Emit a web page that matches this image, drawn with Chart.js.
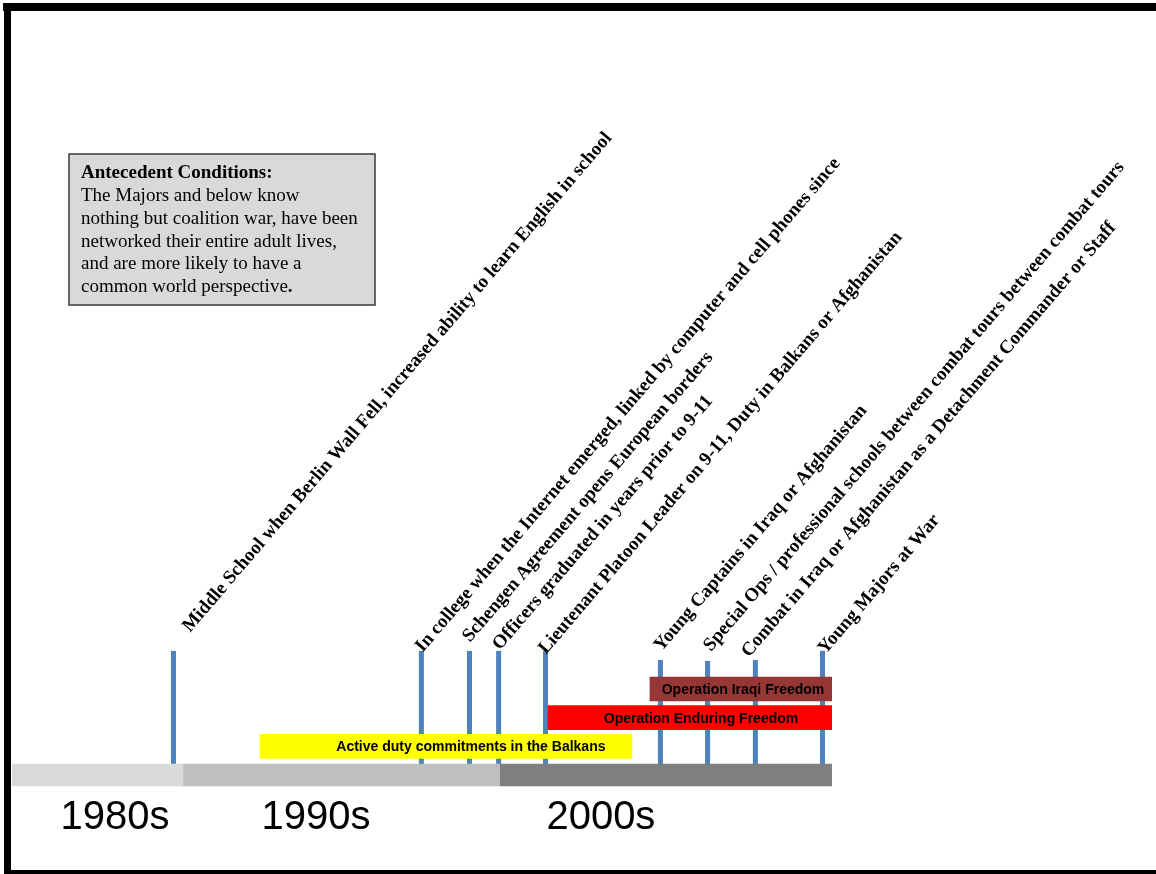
<!DOCTYPE html>
<html>
<head>
<meta charset="utf-8">
<script src="https://cdn.jsdelivr.net/npm/chart.js@4.4.0/dist/chart.umd.min.js"></script>
<style>
html,body{margin:0;padding:0;background:#fff;}
#wrap{position:relative;width:1156px;height:874px;}
</style>
</head>
<body>
<div id="wrap"><canvas id="c"></canvas></div>
<script>
// ---- data ----
const decadeNames = ['1980s', '1990s', '2000s'];
const decadeStart = [1984.6, 1990, 2000];
const decadeEnd = [1990, 2000, 2010.5];
const decadeLabelAt = [1987.85, 1994.2, 2003.2];

const opNames = ['Active duty commitments in the Balkans', 'Operation Enduring Freedom', 'Operation Iraqi Freedom'];
const opStart = [1992.43, 2001.53, 2004.75];
const opEnd = [2004.18, 2010.5, 2010.5];
const opRow = [1, 2, 3];

const eventLabels = [
  'Middle School when Berlin Wall Fell, increased ability to learn English in school',
  'In college when the Internet emerged, linked by computer and cell phones since',
  'Schengen Agreement opens European borders',
  'Officers graduated in years prior to 9-11',
  'Lieutenant Platoon Leader on 9-11, Duty in Balkans or Afghanistan',
  'Young Captains in Iraq or Afghanistan',
  'Special Ops / professional schools between combat tours between combat tours',
  'Combat in Iraq or Afghanistan as a Detachment Commander or Staff',
  'Young Majors at War'
];
const eventYears = [1989.7, 1997.53, 1999.05, 1999.97, 2001.45, 2005.08, 2006.57, 2008.08, 2010.2];
const eventTop = [4.33, 4.33, 4.33, 4.33, 4.33, 4.01, 3.98, 4.01, 4.33];
const eventBase = 0.35;

const boxTitle = 'Antecedent Conditions:';
const boxLines = [
  'The Majors and below know',
  'nothing but coalition war, have been',
  'networked their entire adult lives,',
  'and are more likely to have a',
  'common world perspective'
];

// ---- styles ----
const bandColors = ['#d9d9d9', '#bfbfbf', '#7f7f7f'];
const opColors = ['#ffff00', '#ff0000', '#953735'];
const opTextNudge = [25, 11, 2];
const labelNudge = [[16.5,-18],[1.5,2],[0.5,-8],[1.5,0],[0.5,4],[1,-8],[3.5,-9],[-6.5,-2],[3,4]];
const labelAngle = -49.5 * Math.PI / 180;

const datasets = [];
eventYears.forEach((yr, i) => {
  datasets.push({
    type: 'line',
    data: [{x: yr, y: eventBase}, {x: yr, y: eventTop[i]}],
    borderColor: '#4f81bd',
    borderWidth: 5,
    borderCapStyle: 'butt',
    pointRadius: 0,
    clip: false,
    order: 3
  });
});
decadeNames.forEach((n, i) => {
  datasets.push({
    type: 'bar',
    indexAxis: 'y',
    data: [{x: [decadeStart[i], decadeEnd[i]], y: 0}],
    backgroundColor: bandColors[i],
    barThickness: 22,
    grouped: false,
    borderWidth: 0,
    order: 1
  });
});
opNames.forEach((n, i) => {
  datasets.push({
    type: 'bar',
    indexAxis: 'y',
    data: [{x: [opStart[i], opEnd[i]], y: opRow[i]}],
    backgroundColor: opColors[i],
    barThickness: 24,
    grouped: false,
    borderWidth: 0,
    order: 1
  });
});

const decorPlugin = {
  id: 'decor',
  beforeDraw(chart) {
    const ctx = chart.ctx;
    ctx.save();
    ctx.fillStyle = '#fff';
    ctx.fillRect(0, 0, chart.width, chart.height);
    // frame
    ctx.fillStyle = '#000';
    ctx.fillRect(3, 3, 1153, 8);
    ctx.fillRect(4, 3, 7, 871);
    ctx.fillRect(4, 870, 1152, 4);
    // antecedent box
    ctx.fillStyle = '#d9d9d9';
    ctx.fillRect(69, 154, 306, 151);
    ctx.strokeStyle = '#3a3a3a';
    ctx.lineWidth = 1.5;
    ctx.strokeRect(69, 154, 306, 151);
    ctx.fillStyle = '#000';
    ctx.textBaseline = 'alphabetic';
    ctx.textAlign = 'left';
    ctx.font = 'bold 19px "Liberation Serif"';
    ctx.fillText(boxTitle, 81, 178);
    boxLines.forEach((t, i) => {
      ctx.font = '19px "Liberation Serif"';
      ctx.fillText(t, 81, 201 + i * 22.8);
      if (i === boxLines.length - 1) {
        const w = ctx.measureText(t).width;
        ctx.font = 'bold 19px "Liberation Serif"';
        ctx.fillText('.', 81 + w, 201 + i * 22.8);
      }
    });
    ctx.restore();
  },
  afterDatasetsDraw(chart) {
    const ctx = chart.ctx;
    const xs = chart.scales.x, ys = chart.scales.y;
    ctx.save();
    // bar labels
    ctx.fillStyle = '#000';
    ctx.font = 'bold 14px "Liberation Sans"';
    ctx.textAlign = 'center';
    ctx.textBaseline = 'middle';
    opNames.forEach((t, i) => {
      const cx = (xs.getPixelForValue(opStart[i]) + xs.getPixelForValue(opEnd[i])) / 2 + opTextNudge[i];
      const cy = ys.getPixelForValue(opRow[i]) + 1;
      ctx.fillText(t, cx, cy);
    });
    // event labels
    ctx.font = 'bold 19px "Liberation Serif"';
    ctx.textAlign = 'left';
    ctx.textBaseline = 'alphabetic';
    eventLabels.forEach((t, i) => {
      const px = xs.getPixelForValue(eventYears[i]) + labelNudge[i][0];
      const py = ys.getPixelForValue(eventTop[i]) + labelNudge[i][1];
      ctx.save();
      ctx.translate(px, py);
      ctx.rotate(labelAngle);
      ctx.fillText(t, 0, 0);
      ctx.restore();
    });
    ctx.restore();
  }
};

new Chart(document.getElementById('c'), {
  type: 'bar',
  data: {datasets},
  options: {
    responsive: true,
    maintainAspectRatio: false,
    animation: false,
    indexAxis: 'y',
    layout: {padding: {left: 12, right: 324, top: 646, bottom: 24.67}},
    plugins: {legend: {display: false}, tooltip: {enabled: false}},
    scales: {
      x: {
        type: 'linear',
        min: 1984.6,
        max: 2010.5,
        bounds: 'data',
        grid: {display: false, drawTicks: false},
        border: {display: false},
        afterBuildTicks: s => { s.ticks = decadeLabelAt.map(v => ({value: v})); },
        afterFit: s => { s.height = 60; },
        ticks: {
          autoSkip: false,
          maxRotation: 0,
          minRotation: 0,
          padding: 5,
          color: '#000',
          font: {family: '"Liberation Sans"', size: 40},
          callback: (v, i) => decadeNames[i]
        }
      },
      y: {
        type: 'linear',
        min: -0.5,
        max: 4.5,
        offset: false,
        display: false
      }
    }
  },
  plugins: [decorPlugin]
});
</script>
</body>
</html>
